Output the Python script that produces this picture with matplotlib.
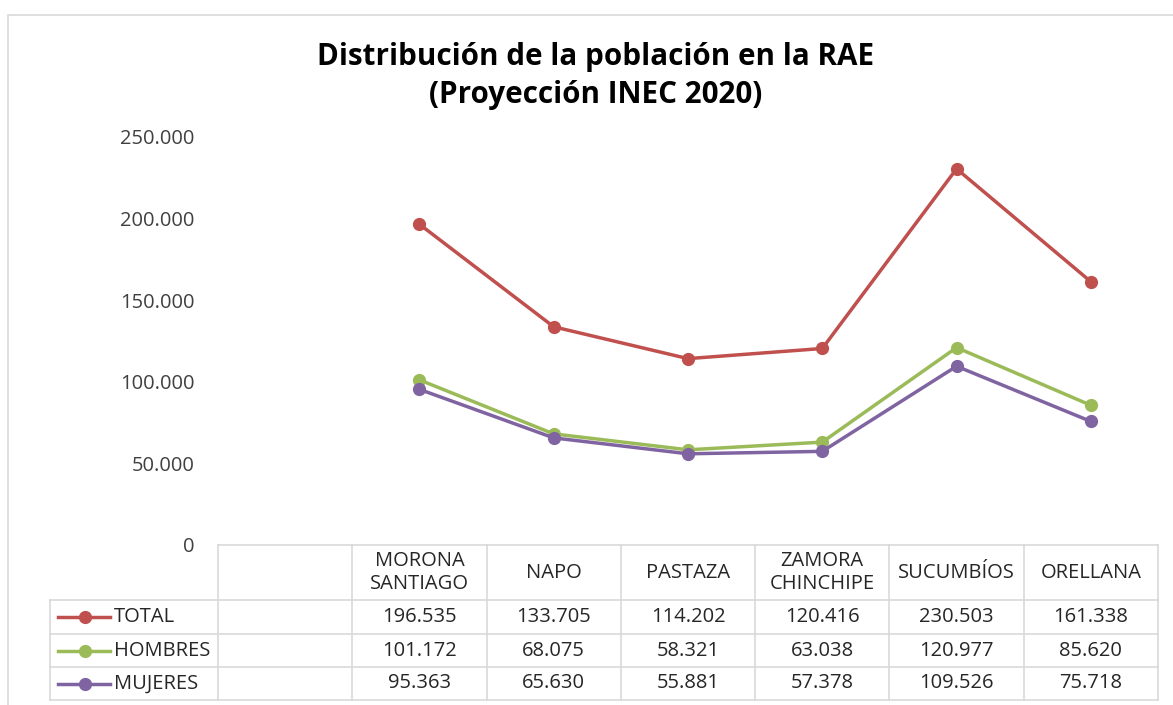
import matplotlib
matplotlib.use("Agg")
import matplotlib.pyplot as plt
from matplotlib.patches import Rectangle
from matplotlib.lines import Line2D
import matplotlib.transforms as mtransforms
from matplotlib.ticker import FuncFormatter

plt.rcParams['font.family'] = ['Open Sans', 'DejaVu Sans']

categories = ["MORONA\nSANTIAGO", "NAPO", "PASTAZA", "ZAMORA\nCHINCHIPE", "SUCUMBÍOS", "ORELLANA"]
series_names = ["TOTAL", "HOMBRES", "MUJERES"]
total = [196535, 133705, 114202, 120416, 230503, 161338]
hombres = [101172, 68075, 58321, 63038, 120977, 85620]
mujeres = [95363, 65630, 55881, 57378, 109526, 75718]
series_values = [total, hombres, mujeres]
colors = ["#C0504D", "#9BBB59", "#8064A2"]
yticks = [0, 50000, 100000, 150000, 200000, 250000]

W, H = 1173, 705
fig = plt.figure(figsize=(W / 100, H / 100), dpi=100)

def fx(px):
    return px / W

def fy(py):
    return 1 - py / H

FS = 14.5
TXT = "#262626"

# outer chart frame
fig.patches.append(Rectangle((fx(8), fy(720)), fx(1200) - fx(8), fy(15) - fy(720),
                             transform=fig.transFigure, fill=False, edgecolor="#d9d9d9", lw=1.2))

ax_l, ax_r, ax_t, ax_b = 218, 1158, 137, 545
ax = fig.add_axes([fx(ax_l), fy(ax_b), fx(ax_r) - fx(ax_l), fy(ax_t) - fy(ax_b)])

xpos = list(range(1, len(categories) + 1))
for vals, col in zip(series_values, colors):
    ax.plot(xpos, vals, color=col, lw=2.5, marker="o", markersize=8.5, solid_capstyle="round")

ax.set_xlim(-0.5, len(categories) + 0.5)
ax.set_ylim(0, 250000)
ax.set_yticks(yticks)
ax.yaxis.set_major_formatter(FuncFormatter(lambda v, p: "0" if v == 0 else f"{int(v):,}".replace(",", ".")))
ax.tick_params(axis="y", length=0, pad=17, labelsize=FS, labelcolor="#404040")
ax.set_xticks([])
for s in ax.spines.values():
    s.set_visible(False)

fig.text(fx(596), fy(57), "Distribución de la población en la RAE", ha="center", va="center",
         fontsize=21.3, fontweight="bold", color="#000000")
fig.text(fx(596), fy(95), "(Proyección INEC 2020)", ha="center", va="center",
         fontsize=21.3, fontweight="bold", color="#000000")

# data table
gc = "#d9d9d9"
trans = mtransforms.blended_transform_factory(ax.transData, fig.transFigure)
row_edges = [545, 600, 634, 667, 700]
legend_left = 50
fig.add_artist(Line2D([fx(ax_l), fx(ax_r)], [fy(row_edges[0])] * 2, color=gc, lw=1.2, transform=fig.transFigure))
for r in row_edges[1:]:
    fig.add_artist(Line2D([fx(legend_left), fx(ax_r)], [fy(r)] * 2, color=gc, lw=1.2, transform=fig.transFigure))
for i in range(len(categories) + 2):
    xb = i - 0.5
    ax.add_artist(Line2D([xb, xb], [fy(row_edges[0]), fy(row_edges[-1])], color=gc, lw=1.2,
                         transform=trans, clip_on=False))
fig.add_artist(Line2D([fx(legend_left)] * 2, [fy(row_edges[1]), fy(row_edges[-1])], color=gc, lw=1.2,
                      transform=fig.transFigure))

hdr_y = fy((row_edges[0] + row_edges[1]) / 2)
for x, c in zip(xpos, categories):
    ax.text(x, hdr_y, c, transform=trans, ha="center", va="center", fontsize=FS,
            color=TXT, linespacing=1.15, clip_on=False)

for k, (name, vals, col) in enumerate(zip(series_names, series_values, colors)):
    yc = fy((row_edges[k + 1] + row_edges[k + 2]) / 2)
    for x, v in zip(xpos, vals):
        ax.text(x, yc, f"{v:,}".replace(",", "."), transform=trans, ha="center", va="center",
                fontsize=FS, color=TXT, clip_on=False)
    fig.add_artist(Line2D([fx(58), fx(110)], [yc, yc], color=col, lw=2.5, transform=fig.transFigure))
    fig.add_artist(Line2D([fx(85)], [yc], color=col, marker="o", markersize=8.5, transform=fig.transFigure))
    fig.text(fx(114), yc, name, ha="left", va="center", fontsize=FS, color=TXT)

fig.savefig("out.png", dpi=100, facecolor="white")
